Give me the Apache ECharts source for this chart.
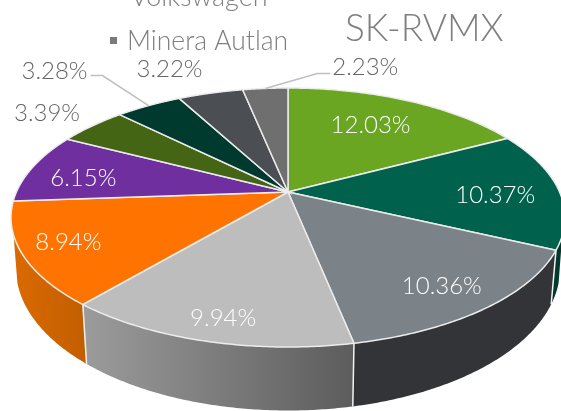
<!DOCTYPE html>
<html><head><meta charset="utf-8">
<style>html,body{margin:0;padding:0;background:#fff;overflow:hidden}#c{width:561px;height:411px}</style>
<script src="https://cdn.jsdelivr.net/npm/echarts@6/dist/echarts.min.js"></script>
</head><body><div id="c"></div>
<script>
// ---- data ----
var shares = [12.03, 10.37, 10.36, 9.94, 8.94, 6.15, 3.39, 3.28, 3.22, 2.23];
var chartTitle = 'SK-RVMX';
var legendNames = ['Volkswagen', 'Minera Autlan'];

// ---- styles ----
var topColors = ['#6aa622','#00624c','#7b8288','#bdbdbd','#ff7300','#6f2f9f','#436514','#003a2e','#4b4e52','#6f6f6f'];
var wallStops = [null,['#00382b','#00382b'],['#333438','#333438'],['#5c5c5c','#9c9c9c'],['#c25e00','#da6a00'],null,null,null,null,null];
var insideLabel = [true,true,true,true,true,true,false,false,false,false];
// label centre relative to the slice's rim midpoint
var labelOffsets = [[-37,25],[-63,6],[-44,-22],[18,-23],[46,-12],[51,11],[-45,-13],[-94,-34],[-41,-24],[100,-21]];
var leaders = {7:[[-46,-30],[-58,-30]], 9:[[52,-15],[65,-15]]};
var FONT = 'Lato, sans-serif';

// ---- geometry of the perspective disc ----
var topFace = {cx:288, cy:217.5, rx:277, ry:129.5, minY:0.135};
var baseFace = {cx:288, cy:268.5, rx:272, ry:142, minY:0.1};
var tilt = -0.197;
var total = shares.reduce(function(a,b){return a+b;},0);
var starts = []; shares.reduce(function(a,b,i){starts[i]=a;return a+b;},0);
var seriesData = shares.map(function(v,i){return [v,starts[i],i];});

function disc(frac){
  var a = frac*2*Math.PI, u = Math.sin(a), v = -Math.cos(a), d = 1+tilt*v;
  return [u*Math.sqrt(1-tilt*tilt)/d, (v+tilt)/d];
}
function place(face,p){ return [face.cx+face.rx*p[0], face.cy+face.ry*p[1]]; }
function fracOf(x){ return echarts.number.linearMap(x,[0,total],[0,1]); }
function arc(face,f0,f1,clip){
  var pts=[], n=96;
  for(var k=0;k<=n;k++){
    var p=disc(f0+(f1-f0)*k/n);
    if(!clip || p[1]>=face.minY) pts.push(place(face,p));
  }
  return pts;
}
function renderWall(params,api){
  var i=api.value(2), f0=fracOf(api.value(1)), f1=fracOf(api.value(1)+api.value(0));
  if(!wallStops[i]) return null;
  var top=arc(topFace,f0,f1,true), base=arc(baseFace,f0,f1,true).reverse();
  var kids=[{type:'polygon',shape:{points:top.concat(base)},
    style:{fill:new echarts.graphic.LinearGradient(0,0,1,0,[{offset:0,color:wallStops[i][1]},{offset:1,color:wallStops[i][0]}])}}];
  var d0=disc(f0);
  if(d0[1]>=topFace.minY){
    kids.push({type:'polyline',shape:{points:[place(topFace,d0),place(baseFace,d0)]},style:{fill:null,stroke:'#f2f2f2',lineWidth:1.5}});
  }
  return {type:'group',children:kids};
}
function renderTop(params,api){
  var i=api.value(2), f0=fracOf(api.value(1)), f1=fracOf(api.value(1)+api.value(0));
  var apex=[topFace.cx, topFace.cy+topFace.ry*tilt];
  return {type:'polygon',shape:{points:[apex].concat(arc(topFace,f0,f1))},
    style:{fill:topColors[i],stroke:'#ececec',lineWidth:1.5}};
}
function renderLabel(params,api){
  var i=api.value(2), v=api.value(0), rim=place(topFace,disc(fracOf(api.value(1)+v/2)));
  var off=labelOffsets[i], kids=[];
  if(leaders[i]){
    var pts=[rim].concat(leaders[i].map(function(o){return [rim[0]+o[0],rim[1]+o[1]];}));
    kids.push({type:'polyline',shape:{points:pts},style:{fill:null,stroke:'#bfbfbf',lineWidth:1.5}});
  }
  kids.push({type:'text',x:rim[0]+off[0],y:rim[1]+off[1],
    style:{text:v.toFixed(2)+'%',align:'center',verticalAlign:'middle',font:'300 24px '+FONT,fill:insideLabel[i]?'#ffffff':'#666666'}});
  return {type:'group',children:kids};
}
var chart = echarts.init(document.getElementById('c'),null,{renderer:'canvas',width:561,height:411});
chart.setOption({
  animation:false,
  backgroundColor:'#ffffff',
  title:{text:chartTitle,left:340,top:6,textStyle:{fontFamily:FONT,fontSize:37,fontWeight:300,color:'#7f7f7f'}},
  graphic:[
    {type:'text',x:199,y:-3,style:{text:legendNames[0],align:'center',verticalAlign:'middle',font:'300 27px '+FONT,fill:'#7f7f7f'}},
    {type:'rect',shape:{x:110,y:37,width:7,height:7},style:{fill:'#7a7a7a'}},
    {type:'text',x:127,y:41,style:{text:legendNames[1],align:'left',verticalAlign:'middle',font:'300 26.5px '+FONT,fill:'#7f7f7f'}}
  ],
  series:[
    {type:'custom',coordinateSystem:'none',z:1,data:seriesData,renderItem:renderWall,silent:true},
    {type:'custom',coordinateSystem:'none',z:2,data:seriesData,renderItem:renderTop,silent:true},
    {type:'custom',coordinateSystem:'none',z:3,data:seriesData,renderItem:renderLabel,silent:true}
  ]
});
</script></body></html>
